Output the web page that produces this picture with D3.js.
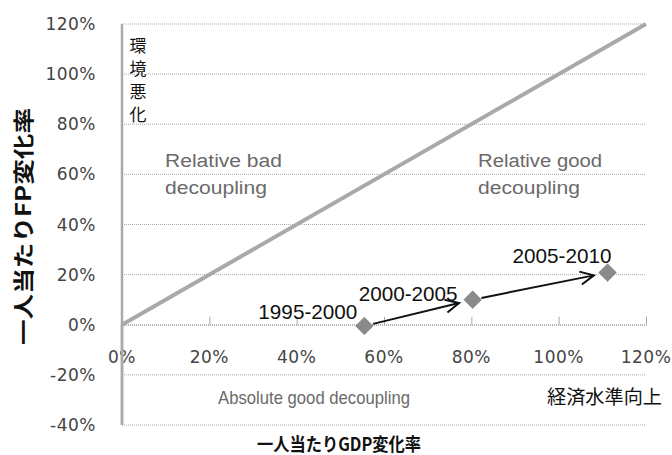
<!DOCTYPE html>
<html><head><meta charset="utf-8">
<script src="https://cdn.jsdelivr.net/npm/d3@7"></script>
<style>body{margin:0;background:#fff}svg{display:block}</style>
</head><body>
<svg id="c" width="672" height="455"></svg>
<script>
const xTicks = [0, 20, 40, 60, 80, 100, 120];
const yTicks = [-40, -20, 0, 20, 40, 60, 80, 100, 120];
const periods = ["1995-2000", "2000-2005", "2005-2010"];
const gdpChange = [55.5, 80.3, 111.2];
const fpChange = [-0.5, 10.0, 20.8];
const diagonal = [0, 120];

const svg = d3.select("#c");
const x = d3.scaleLinear().domain([0, 120]).range([122, 646]);
const y = d3.scaleLinear().domain([-40, 120]).range([425, 24]);
const pct = d => d + "%";

// horizontal gridlines
svg.append("g").selectAll("line").data(yTicks).join("line")
  .attr("x1", x(0)).attr("x2", x(120))
  .attr("y1", d => y(d)).attr("y2", d => y(d))
  .attr("stroke", "#a8a8a8").attr("stroke-width", 1).attr("stroke-dasharray", "1,1");

// y axis line
svg.append("line").attr("x1", x(0)).attr("x2", x(0)).attr("y1", y(120)).attr("y2", y(-40))
  .attr("stroke", "#aaa").attr("stroke-width", 2.5);

// x axis at 0 with upward ticks
const xa = svg.append("g").attr("transform", `translate(0,${y(0)})`)
  .call(d3.axisTop(x).tickValues(xTicks).tickSize(8).tickFormat(""));
xa.select(".domain").attr("stroke", "#999").attr("stroke-dasharray", "1,1");
xa.selectAll(".tick line").attr("stroke", "#aaa");

// tick labels
svg.append("g").selectAll("text").data(yTicks).join("text")
  .attr("x", 96).attr("y", d => y(d)).attr("dy", "0.36em")
  .attr("text-anchor", "end").attr("font-family", "DejaVu Sans").attr("font-size", 17)
  .attr("letter-spacing", "0.5").attr("fill", "#444").text(pct);
svg.append("g").selectAll("text").data(xTicks).join("text")
  .attr("x", d => x(d)).attr("y", y(0) + 38)
  .attr("text-anchor", "middle").attr("font-family", "DejaVu Sans").attr("font-size", 17)
  .attr("letter-spacing", "0.5").attr("fill", "#444").text(pct);

// redraw y axis line over the "0%" label
svg.append("line").attr("x1", x(0)).attr("x2", x(0)).attr("y1", y(0)).attr("y2", y(-40))
  .attr("stroke", "#aaa").attr("stroke-width", 2.5);

// diagonal
svg.append("line")
  .attr("x1", x(diagonal[0])).attr("y1", y(diagonal[0]))
  .attr("x2", x(diagonal[1])).attr("y2", y(diagonal[1]))
  .attr("stroke", "#a9a9a9").attr("stroke-width", 4);

// arrows between points
const pts = gdpChange.map((g, i) => [x(g), y(fpChange[i])]);
const arrowG = svg.append("g");
for (let i = 0; i < pts.length - 1; i++) {
  const [x0, y0] = pts[i], [x1, y1] = pts[i + 1];
  const ang = Math.atan2(y1 - y0, x1 - x0);
  const len = Math.hypot(x1 - x0, y1 - y0);
  const s = 9, e = len - 14;
  const sx = x0 + Math.cos(ang) * s, sy = y0 + Math.sin(ang) * s;
  const ex = x0 + Math.cos(ang) * e, ey = y0 + Math.sin(ang) * e;
  arrowG.append("line").attr("x1", sx).attr("y1", sy).attr("x2", ex).attr("y2", ey)
    .attr("stroke", "#111").attr("stroke-width", 2);
  const h = 15, a = 0.45;
  const p = d3.path();
  p.moveTo(ex - Math.cos(ang - a) * h, ey - Math.sin(ang - a) * h);
  p.lineTo(ex, ey);
  p.lineTo(ex - Math.cos(ang + a) * h, ey - Math.sin(ang + a) * h);
  arrowG.append("path").attr("d", p.toString()).attr("fill", "none")
    .attr("stroke", "#111").attr("stroke-width", 2);
}

// diamonds
svg.append("g").selectAll("path").data(pts).join("path")
  .attr("d", d3.symbol().type(d3.symbolDiamond2).size(200))
  .attr("transform", d => `translate(${d[0]},${d[1]})`)
  .attr("fill", "#8a8a8a").attr("stroke", "#777").attr("stroke-width", 0.5);

// data labels
const labelOffsets = [[-7, -7], [-15, 1], [4, -10]];
svg.append("g").selectAll("text").data(periods).join("text")
  .attr("x", (d, i) => pts[i][0] + labelOffsets[i][0])
  .attr("y", (d, i) => pts[i][1] + labelOffsets[i][1])
  .attr("text-anchor", "end").attr("font-family", "Liberation Sans").attr("font-size", 21)
  .attr("textLength", 99).attr("lengthAdjust", "spacingAndGlyphs")
  .attr("fill", "#111").text(d => d);

// region annotations
const gray = "#6a6a6a";
function txt(t, xx, yy, size, w, fill, fam, weight) {
  const el = svg.append("text").attr("x", xx).attr("y", yy)
    .attr("font-family", fam || "Liberation Sans").attr("font-size", size)
    .attr("fill", fill).attr("font-weight", weight || "normal").text(t);
  if (w) el.attr("textLength", w).attr("lengthAdjust", "spacingAndGlyphs");
  return el;
}
txt("Relative bad", 165, 167, 18, 117, gray);
txt("decoupling", 165, 194, 18, 102, gray);
txt("Relative good", 478, 167, 18, 124, gray);
txt("decoupling", 478, 194, 18, 102, gray);
txt("Absolute  good decoupling", 218, 404, 19, 192, gray);
txt("経済水準向上", 547, 404, 19, 115, "#111", "Noto Sans CJK JP");

// vertical 環境悪化
["環", "境", "悪", "化"].forEach((c, i) => {
  svg.append("text").attr("x", 138).attr("y", 52 + i * 23)
    .attr("text-anchor", "middle").attr("font-family", "Noto Sans CJK JP")
    .attr("font-size", 17).attr("fill", "#111").text(c);
});

// axis titles
txt("一人当たりGDP変化率", 257, 451, 18, 164, "#111", "Noto Sans CJK JP", "bold");
svg.append("text").attr("transform", "translate(31,345) rotate(-90)")
  .attr("font-family", "Noto Sans CJK JP").attr("font-weight", "bold").attr("font-size", 21)
  .attr("textLength", 237).attr("lengthAdjust", "spacingAndGlyphs")
  .attr("fill", "#111").text("一人当たりFP変化率");
</script>
</body></html>
